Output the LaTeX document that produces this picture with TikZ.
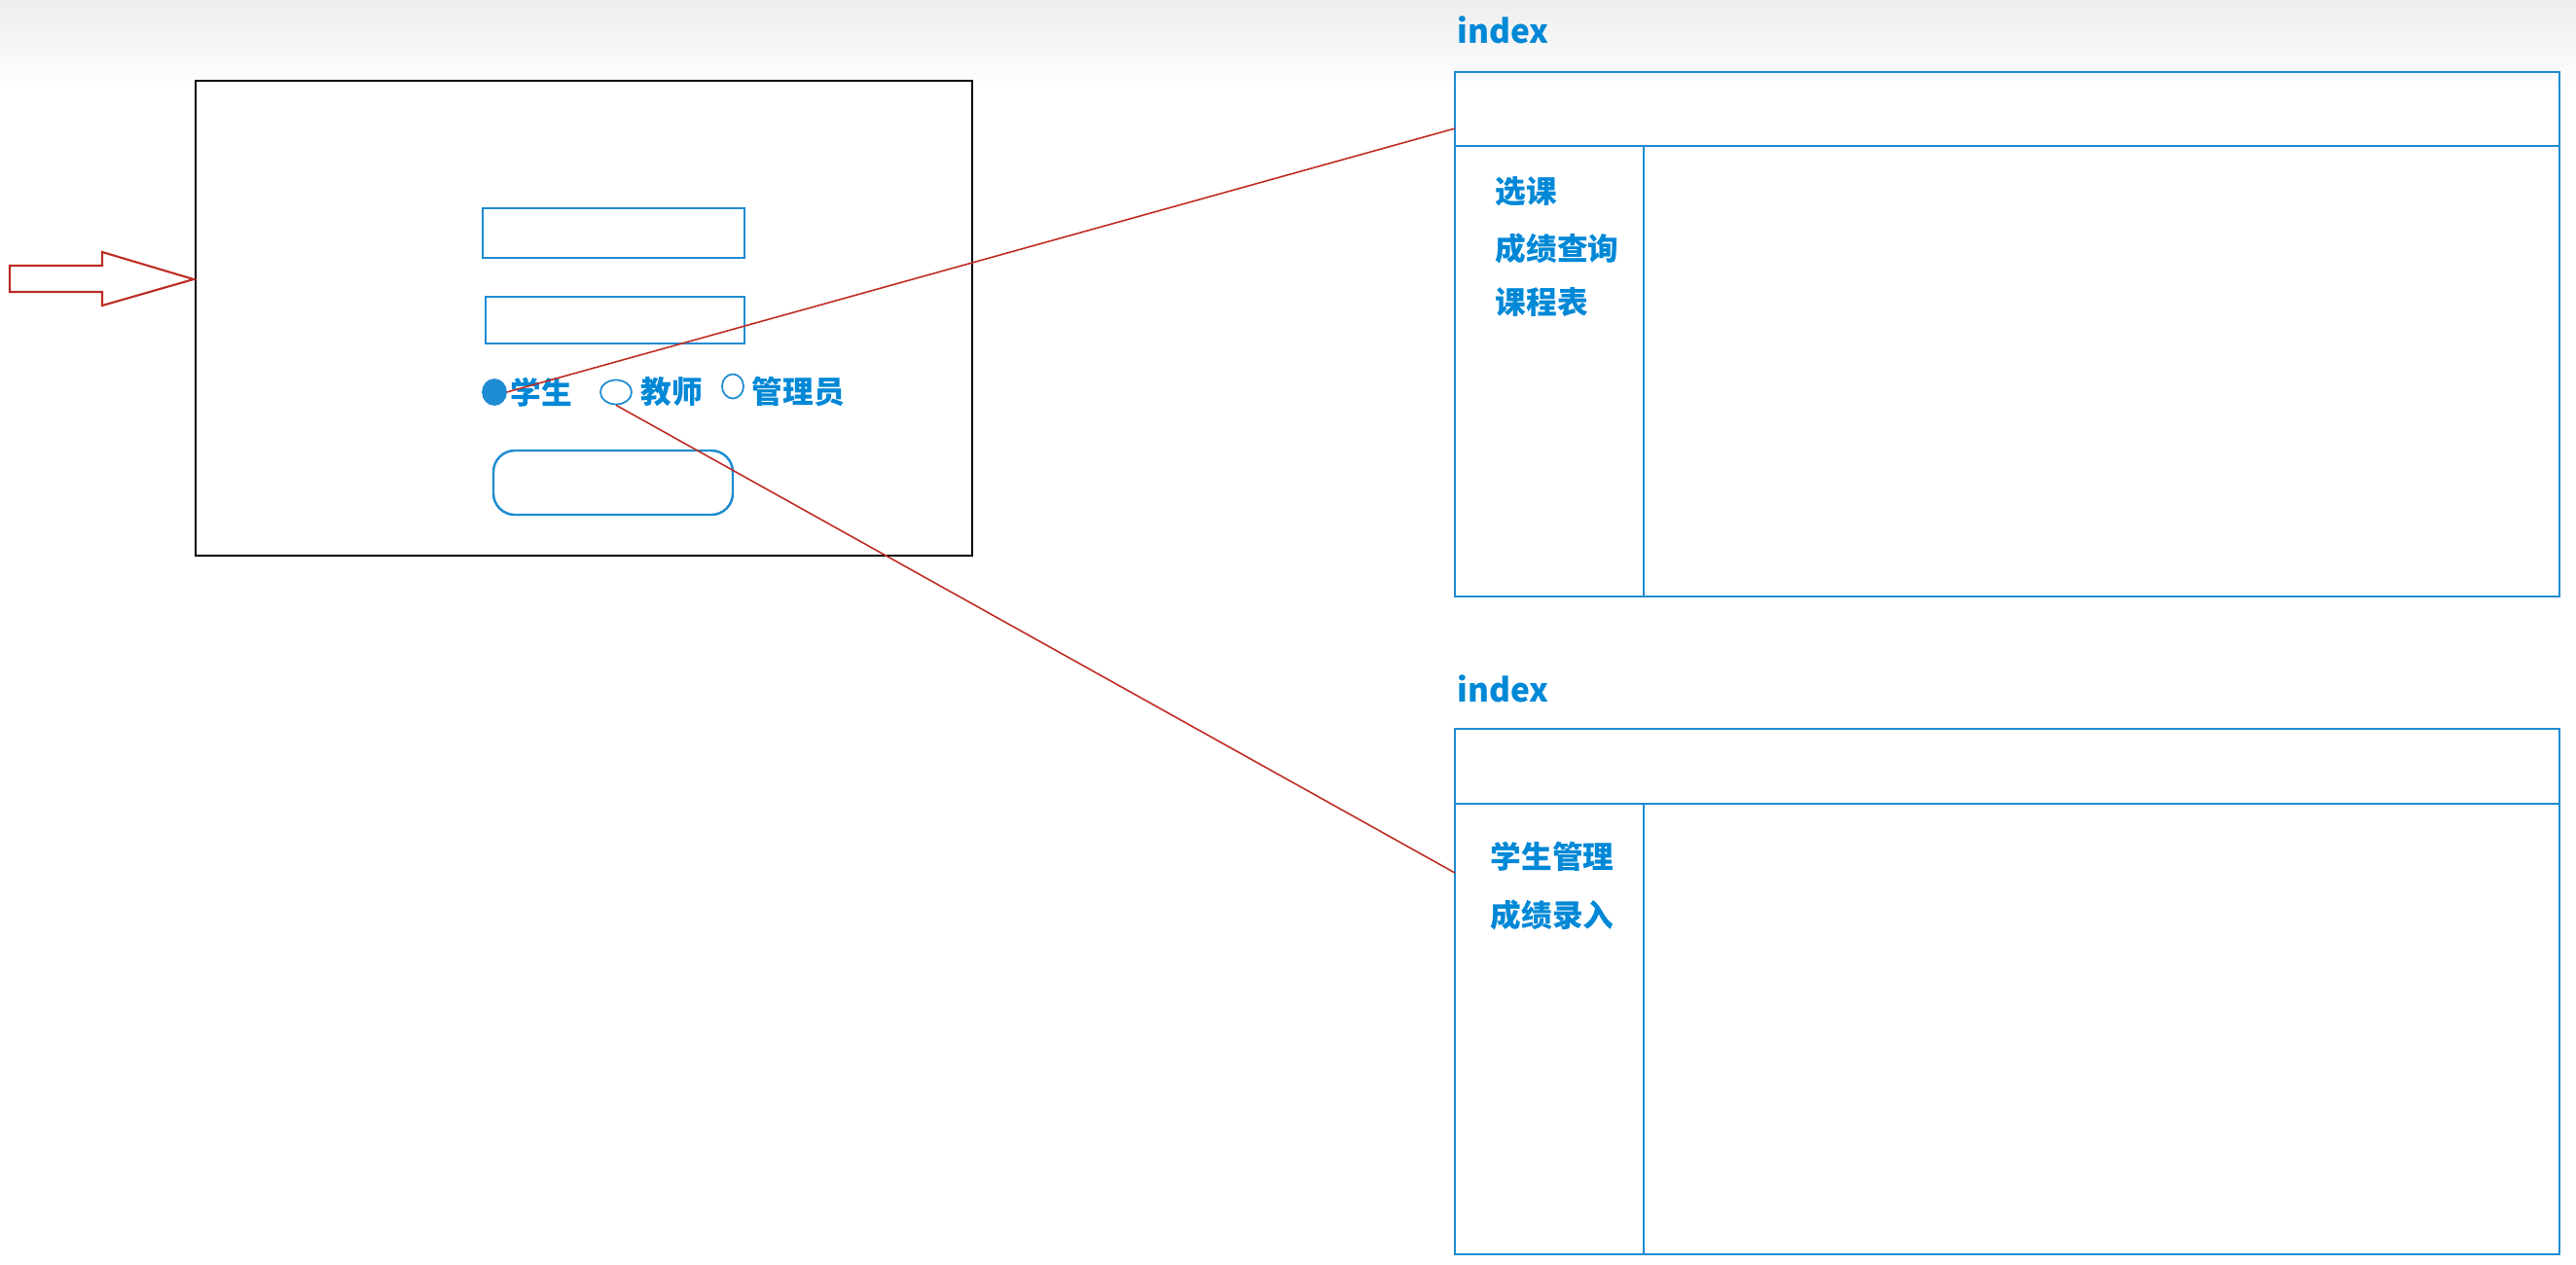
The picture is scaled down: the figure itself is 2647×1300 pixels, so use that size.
\documentclass[tikz,border=0pt]{standalone}
\usepackage{fontspec}
\setmainfont{Noto Sans CJK SC}
\newfontfamily\cjk{Noto Sans CJK SC}
\usetikzlibrary{shapes.geometric}
\definecolor{uiblue}{RGB}{30,140,210}
\definecolor{uitext}{RGB}{0,136,214}
\definecolor{linkred}{RGB}{190,45,35}
\begin{document}
\begin{tikzpicture}[x=0.01cm, y=-0.01cm,
		marco/.style={draw=black, line width=0.6pt},
		caja/.style={draw=uiblue, line width=0.7pt},
		radio/.style={ellipse, draw=uiblue, line width=0.5pt, inner sep=0pt},
		lbl/.style={text=uitext, font=\cjk\bfseries\fontsize{9}{11}\selectfont, inner sep=0pt, anchor=west},
		enlace/.style={draw=linkred, line width=0.45pt}]
	\useasboundingbox (0,0) rectangle (2647,1300);
	% Fondo
		\shade[top color=black!7, bottom color=white] (0,0) rectangle (2647,90);
	
	% Login
		% Marco
			\draw[marco] (201,83) rectangle (999,571);
		% Flecha de entrada
			\draw[linkred, line width=0.6pt] (10,273) -- (105,273) -- (105,259) -- (199,287) -- (105,314) -- (105,300) -- (10,300) -- cycle;
		% Campos
			\draw[caja] (496,214) rectangle (765,265);
			\draw[caja] (499,305) rectangle (765,353);
		% Roles
			\node[radio, fill=uiblue, minimum width=0.24cm, minimum height=0.26cm] (rStu) at (508,403) {};
			\node[lbl] (stu) at (524,403) {学生};
			\node[radio, minimum width=0.32cm, minimum height=0.25cm] (rTea) at (633,403) {};
			\node[lbl] (tea) at (658,403) {教师};
			\node[radio, minimum width=0.22cm, minimum height=0.25cm] (rAdm) at (753,397) {};
			\node[lbl] (adm) at (772,403) {管理员};
		% Boton
			\draw[caja, rounded corners=0.22cm] (507,463) rectangle (753,529);
	
	% Index alumno
		\node[lbl, anchor=base west, font=\cjk\bfseries\fontsize{9.5}{11}\selectfont] (idxA) at (1497,45) {index};
		\draw[caja] (1495,74) rectangle (2630,613);
		\draw[caja] (1495,150) -- (2630,150);
		\draw[uiblue, line width=0.45pt] (1689,150) -- (1689,613);
		\node[lbl] (menuA1) at (1536,197) {选课};
		\node[lbl] (menuA2) at (1536,255) {成绩查询};
		\node[lbl] (menuA3) at (1536,310) {课程表};
		\coordinate (inA) at (1495,132);
	
	% Index profesor
		\node[lbl, anchor=base west, font=\cjk\bfseries\fontsize{9.5}{11}\selectfont] (idxB) at (1497,721) {index};
		\draw[caja] (1495,749) rectangle (2630,1289);
		\draw[caja] (1495,826) -- (2630,826);
		\draw[uiblue, line width=0.45pt] (1689,826) -- (1689,1289);
		\node[lbl] (menuB1) at (1531,880) {学生管理};
		\node[lbl] (menuB2) at (1531,940) {成绩录入};
		\coordinate (inB) at (1495,897);
	
	% Enlaces
		\draw[enlace] (rStu.east) -- (inA);
		\draw[enlace] (rTea.south) -- (inB);
\end{tikzpicture}
\end{document}
